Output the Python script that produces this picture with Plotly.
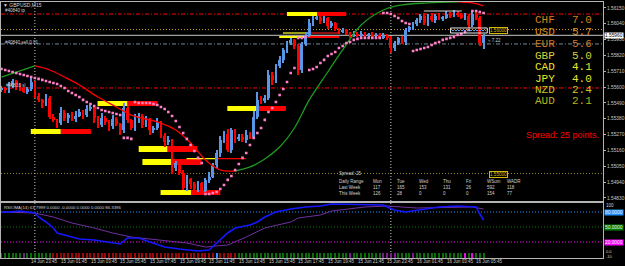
import plotly.graph_objects as go

W, H = 625, 266
def px(x): return x / W
def py(y): return 1 - y / H

# ---------------- data ----------------
closes = [
 1.55594, 1.55580, 1.55608, 1.55643, 1.55615, 1.55594, 1.55573, 1.55587, 1.55636, 1.55545,
 1.55511, 1.55490, 1.55525, 1.55399, 1.55372, 1.55351, 1.55427, 1.55386, 1.55413, 1.55379,
 1.55406, 1.55434, 1.55413, 1.55448, 1.55462, 1.55386, 1.55337, 1.55392, 1.55358, 1.55330,
 1.55379, 1.55344, 1.55302, 1.55455, 1.55372, 1.55316, 1.55386, 1.55406, 1.55337, 1.55372,
 1.55302, 1.55316, 1.55358, 1.55267, 1.55219, 1.55233, 1.55038, 1.55073, 1.55010, 1.54899,
 1.54962, 1.54927, 1.54892, 1.54934, 1.54885, 1.54955, 1.54982, 1.55059, 1.55149, 1.55233,
 1.55281, 1.55163, 1.55302, 1.55247, 1.55260, 1.55233, 1.55274, 1.55260, 1.55399, 1.55511,
 1.55504, 1.55531, 1.55691, 1.55650, 1.55747, 1.55789, 1.55858, 1.55907, 1.55928, 1.55886,
 1.55719, 1.55900, 1.55969, 1.56046, 1.56081, 1.56087, 1.56060, 1.56081, 1.56025, 1.56046,
 1.56004, 1.55990, 1.55997, 1.55976, 1.55962, 1.55976, 1.55962, 1.55976, 1.55962, 1.55969,
 1.55955, 1.55969, 1.55948, 1.55962, 1.55948, 1.55872, 1.55907, 1.55942, 1.55914, 1.55997,
 1.56018, 1.56039, 1.56067, 1.56101, 1.56046, 1.56101, 1.56067, 1.56101, 1.56081, 1.56087,
 1.56115, 1.56101, 1.56122, 1.56108, 1.56087, 1.56101, 1.56032, 1.56115, 1.56087, 1.55907,
 1.55960]
first_open = 1.55580
upper_wick_pips = [
 2,1,3,2,1,2,1,2,3,1, 2,1,3,2,2,1,4,2,1,2, 3,2,1,3,2,1,2,3,1,2,
 3,2,1,4,2,1,3,2,1,3, 2,2,3,1,2,3,1,2,1,2, 3,1,2,2,1,2,3,2,2,3,
 2,3,2,1,2,2,3,2,4,6, 3,2,3,2,2,3,2,2,2,1, 2,2,2,3,2,1,2,2,1,2,
 1,1,2,1,1,2,1,2,1,1, 2,1,1,2,1,1,2,1,2,2, 1,2,2,1,2,1,2,1,2,1,
 2,1,2,1,1,2,1,2,2,1, 1]
lower_wick_pips = [
 1,2,2,1,3,2,1,2,1,2, 1,3,2,2,1,3,1,2,3,1, 2,1,3,2,1,3,2,1,2,3,
 2,1,3,2,2,1,2,3,2,1, 3,2,1,2,3,2,4,2,2,1, 2,3,1,2,2,1,2,1,2,3,
 2,1,2,3,2,1,2,2,1,2, 2,1,2,3,2,1,2,2,1,2, 3,2,1,2,2,1,2,1,2,1,
 1,2,1,1,2,1,1,2,1,1, 1,2,1,1,2,3,2,1,1,2, 1,2,1,2,1,2,1,2,1,2,
 1,2,1,2,1,2,2,1,2,2, 4]

sar_values = [
 1.55726,1.55719,1.55712,1.55705,1.55698,1.55691,1.55684,1.55677,1.55670,1.55663,
 1.55657,1.55650,1.55643,1.55636,1.55629,1.55622,1.55608,1.55594,1.55573,1.55559,
 1.55545,1.55531,1.55511,1.55497,1.55483,1.55469,1.55455,1.55441,1.55434,1.55427,
 1.55420,1.55413,1.55406,1.55247,1.55247,1.55240,1.55497,1.55490,1.55490,1.55490,
 1.55490,1.55483,1.55476,1.55462,1.55448,1.55427,1.55399,1.55365,1.55323,1.55281,
 1.55240,1.55198,1.55156,1.55108,1.55073,1.54857,1.54857,1.54864,1.54871,1.54892,
 1.54920,1.54955,1.54982,1.55024,1.55066,1.55108,1.55142,1.55198,1.55247,1.55281,
 1.55316,1.55372,1.55427,1.55455,1.55497,1.55545,1.55587,1.55636,1.55698,1.55733,
 1.55942,1.55942,1.55948,1.55719,1.55726,1.55740,1.55768,1.55789,1.55816,1.55830,
 1.55844,1.55872,1.55886,1.55907,1.55914,1.55928,1.55935,1.55942,1.55942,1.55942,
 1.55942,1.55942,1.55942,1.56115,1.56115,1.56108,1.56094,1.56080,1.56060,1.56046,
 1.56039,1.55851,1.55858,1.55865,1.55872,1.55879,1.55893,1.55907,1.55914,1.55928,
 1.55935,1.55942,1.55948,1.55962,1.55969,1.55983,1.55997,1.56129,1.56129,1.56122,
 1.56115]

# moving average (colour by slope), read at points
ma_up1_idx = [0, 4, 9]
ma_up1_val = [1.55670, 1.55705, 1.55747]
ma_dn1_idx = [9, 13, 17, 21, 26, 31, 35, 42, 47, 51, 55, 59, 63]
ma_dn1_val = [1.55747, 1.55719, 1.55670, 1.55615, 1.55531, 1.55462, 1.55406, 1.55358,
              1.55302, 1.55212, 1.55094, 1.55024, 1.55017]
ma_up2_idx = [63, 67, 71, 75, 79, 83, 88, 92, 97, 103, 108, 115, 123]
ma_up2_val = [1.55017, 1.55045, 1.55101, 1.55184, 1.55316, 1.55511, 1.55705, 1.55858,
              1.56032, 1.56136, 1.56171, 1.56185, 1.56192]
ma_dn2_idx = [123, 127, 130]
ma_dn2_val = [1.56192, 1.56185, 1.56164]

# supply / demand zones (bar index, price)
zone_start = [7.9, 25.9, 37.0, 38.0, 42.9, 49.9, 60.9, 77.0, 75.9, 74.9]
zone_mid   = [16.0, 34.0, 44.8, 45.8, 51.2, 58.2, 68.7, 85.1, 83.5, 82.4]
zone_end   = [24.1, 42.1, 52.8, 53.9, 59.0, 66.0, 76.7, 92.9, 91.0, 91.0]
zone_top   = [1.55309, 1.55504, 1.55191, 1.55101, 1.54885, 1.55108, 1.55469, 1.56122, 1.55983, 1.55955]
zone_bot   = [1.55274, 1.55469, 1.55149, 1.55059, 1.54850, 1.55098, 1.55434, 1.56094, 1.55969, 1.55942]
zone_left_color  = ['#FFFF00']*8 + ['#9A9A1A', '#FFFF00']
zone_right_color = ['#FF0000']*8 + ['#8C1010', '#FF0000']

# horizontal levels
hline_price = [1.56108, 1.56000, 1.55960, 1.55900, 1.55594, 1.55000]
hline_color = ['#FF0000', '#DAA520', '#C8C8C8', '#7A8899', '#FF0000', '#9C8A16']
hline_dash  = ['4px,2px,1px,2px', '1px,2px', 'solid', '4px,2px,1px,2px', '4px,2px,1px,2px', '1px,2px']

price_tick_values = [1.56150, 1.56040, 1.55930, 1.55820, 1.55710, 1.55600, 1.55490,
                     1.55380, 1.55270, 1.55160, 1.55050, 1.54940, 1.54830]
price_tick_labels = ['1.56150', '1.56040', '1.55930', '1.55820', '1.55710', '1.55600', '1.55490',
                     '1.55380', '1.55270', '1.55160', '1.55050', '1.54940', '1.54830']

time_label_idx = [0, 8, 16, 24, 32, 40, 48, 56, 64, 72, 80, 88, 96, 104, 112, 120, 128]
time_labels = ['14 Jun 2015', '14 Jun 23:45', '15 Jun 01:45', '15 Jun 03:45', '15 Jun 05:45',
               '15 Jun 07:45', '15 Jun 09:45', '15 Jun 11:45', '15 Jun 13:45', '15 Jun 15:45',
               '15 Jun 17:45', '15 Jun 19:45', '15 Jun 21:45', '15 Jun 23:45', '16 Jun 01:45',
               '16 Jun 03:45', '16 Jun 05:45']
separator_idx = [9, 105]

# RSIOMA panel
rsi_idx = [0, 2, 5, 9, 10, 12, 14, 15, 18, 21, 25, 28, 32, 34, 37, 40, 44, 48, 53, 56, 59,
           61, 63, 67, 69, 71, 74, 78, 82, 86, 89, 103, 104, 106, 109, 113, 118, 123, 128, 129, 130]
rsi_val = [80, 80, 82, 78, 70, 60, 48, 38, 32, 26, 24, 20, 16, 28, 28, 20, 10, 6, 2, 4, 24,
           38, 48, 54, 60, 70, 80, 86, 90, 92, 96, 94, 90, 84, 80, 84, 90, 92, 90, 76, 64]
rsi_ma_idx = [0, 9, 14, 19, 25, 30, 35, 43, 50, 55, 61, 66, 71, 78, 80, 86, 89, 98, 104, 112, 121, 127, 130]
rsi_ma_val = [80, 78, 70, 58, 48, 38, 30, 24, 18, 10, 14, 30, 48, 60, 68, 74, 82, 90, 92, 88, 90, 90, 86]
rsi_levels = [80, 50, 20]
rsi_level_colors = ['#1E90FF', '#008000', '#FF00FF']
hist_state = ('gggggg' + 'p' + 'ggggggg' + 'r'*44 + 'b' + 'rrrrr' + 'g'*30 + 'p' + 'g'*8 +
              'pppp' + 'gggg' + 'p' + 'g'*13 + 'm' + 'g' + 'm' + 'ggg')
HIST_DEPTH = -10

currencies = ['CHF', 'USD', 'EUR', 'GBP', 'CAD', 'JPY', 'NZD', 'AUD']
strengths = ['7.0', '5.7', '5.6', '5.0', '4.1', '4.0', '2.4', '2.1']
strength_colors = ['#D2821E', '#DC8C1E', '#C8782A', '#D2D23C', '#E6E632', '#E6E628', '#C8C828', '#B4B41E']

range_days = ['Mon', 'Tue', 'Wed', 'Thu', 'Fri', 'WSum', 'WADR']
last_week = ['117', '165', '153', '131', '26', '592', '118']
this_week = ['126', '28', '0', '0', '0', '154', '77']

# ---------------- figure ----------------
n = len(closes)
bars = list(range(n))
PIP = 0.0001
opens = [first_open] + closes[:-1]
highs = [max(o, c) + u * PIP for o, c, u in zip(opens, closes, upper_wick_pips)]
lows = [min(o, c) - d * PIP for o, c, d in zip(opens, closes, lower_wick_pips)]
cols = ['#5A96E6' if c >= o else '#FF0000' for o, c in zip(opens, closes)]

fig = go.Figure()
fig.add_trace(go.Bar(x=bars, base=lows, y=[h - l for h, l in zip(highs, lows)], width=0.3,
                     marker=dict(color=cols, line=dict(width=0)), xaxis='x', yaxis='y', hoverinfo='skip'))
fig.add_trace(go.Bar(x=bars, base=[min(o, c) for o, c in zip(opens, closes)],
                     y=[max(abs(c - o), 0.00003) for o, c in zip(opens, closes)], width=0.74,
                     marker=dict(color=cols, line=dict(width=0)), xaxis='x', yaxis='y', hoverinfo='skip'))

for xi, yv, colr in [(ma_up1_idx, ma_up1_val, '#1E9A1E'), (ma_dn1_idx, ma_dn1_val, '#FF0000'),
                     (ma_up2_idx, ma_up2_val, '#1E9A1E'), (ma_dn2_idx, ma_dn2_val, '#FF0000')]:
    fig.add_trace(go.Scatter(x=xi, y=yv, mode='lines', line=dict(color=colr, width=1.3, shape='spline'),
                             xaxis='x', yaxis='y', hoverinfo='skip'))

fig.add_trace(go.Scatter(x=bars, y=sar_values, mode='markers',
                         marker=dict(symbol='square', size=2.6, color='#FF80C8', line=dict(width=0)),
                         xaxis='x', yaxis='y', hoverinfo='skip'))

# RSI panel
hist_colors = {'g': '#0B6E0B', 'r': '#9B0A0A', 'p': '#7A1E8C', 'm': '#E010E0', 'b': '#2F8FFF'}
fig.add_trace(go.Bar(x=bars, y=[HIST_DEPTH for _ in hist_state], width=0.3,
                     marker=dict(color=[hist_colors[s] for s in hist_state], line=dict(width=0)),
                     xaxis='x2', yaxis='y2', hoverinfo='skip'))
fig.add_trace(go.Scatter(x=rsi_ma_idx, y=rsi_ma_val, mode='lines', line=dict(color='#7030A0', width=1),
                         xaxis='x2', yaxis='y2', hoverinfo='skip'))
fig.add_trace(go.Scatter(x=rsi_idx, y=rsi_val, mode='lines', line=dict(color='#1418FF', width=1.6),
                         xaxis='x2', yaxis='y2', hoverinfo='skip'))

shapes = []
for s, m, e, t, b, lc, rc in zip(zone_start, zone_mid, zone_end, zone_top, zone_bot,
                                 zone_left_color, zone_right_color):
    shapes.append(dict(type='rect', xref='x', yref='y', x0=s, x1=m, y0=b, y1=t,
                       fillcolor=lc, line=dict(width=0), layer='below'))
    shapes.append(dict(type='rect', xref='x', yref='y', x0=m, x1=e, y0=b, y1=t,
                       fillcolor=rc, line=dict(width=0), layer='below'))
for p, c, d in zip(hline_price, hline_color, hline_dash):
    shapes.append(dict(type='line', xref='x domain', yref='y', x0=0, x1=1, y0=p, y1=p,
                       line=dict(color=c, width=1, dash=d), layer='below'))
for lv, c in zip(rsi_levels, rsi_level_colors):
    shapes.append(dict(type='line', xref='x2 domain', yref='y2', x0=0, x1=1, y0=lv, y1=lv,
                       line=dict(color=c, width=1, dash='1px,2px'), layer='below'))
for si in separator_idx:
    shapes.append(dict(type='line', xref='x', yref='paper', x0=si, x1=si, y0=py(258), y1=py(1.5),
                       line=dict(color='#C8C8C8', width=1, dash='1px,2px'), layer='below'))
# drawn objects near top right
shapes.append(dict(type='line', xref='x', yref='y', x0=113.9, x1=124.1, y0=1.56129, y1=1.56129,
                   line=dict(color='#D8D8D8', width=1)))
shapes.append(dict(type='rect', xref='x', yref='y', x0=121.1, x1=131.0, y0=1.55976, y1=1.56011,
                   line=dict(color='#E8E8E8', width=1), fillcolor='rgba(0,0,0,0)'))
shapes.append(dict(type='line', xref='x', yref='y', x0=121.5, x1=130.6, y0=1.55993, y1=1.55993,
                   line=dict(color='#6FA8FF', width=1, dash='2px,1px')))

ann = []
def txt(x, y, s, size=5, color='#D0D0D0', family='Liberation Sans', anchor='left', **kw):
    ann.append(dict(xref='paper', yref='paper', x=px(x), y=py(y), text=s, showarrow=False,
                    xanchor=anchor, yanchor='middle', font=dict(size=size, color=color, family=family),
                    borderpad=0, **kw))

txt(2, 5, '▼ GBPUSD,M15')
txt(4, 11, '#40840 tp', size=4.5)
txt(4, 42, '#40840 sell 0.01', size=4.5)
txt(5, 85, '#40816 sl', size=4.5)
txt(489, 40, '≈ 7.22', size=4.5)
txt(607, 205.5, '100', size=4.5)
for lv, c in zip(rsi_levels, rsi_level_colors):
    ann.append(dict(xref='paper', yref='y2', x=px(606), y=lv, text=f'{lv:.4f}', showarrow=False,
                    xanchor='left', yanchor='middle', bgcolor=c, borderpad=0,
                    font=dict(size=4.8, color='#F0F0F0', family='Liberation Sans')))
txt(607, 251.5, '0.0', size=4)
txt(607, 256.5, '-10', size=4)
ann.append(dict(xref='paper', yref='y', x=px(606), y=1.55960, text='1.55960', showarrow=False,
                xanchor='left', yanchor='middle', bgcolor='#FFFFFF', borderpad=0,
                font=dict(size=4.8, color='#000000', family='Liberation Sans')))
for lvl, yy in [('1.56000', 30.5), ('1.55000', 174.5)]:
    ann.append(dict(xref='paper', yref='paper', x=px(491), y=py(yy), text=lvl, showarrow=False,
                    xanchor='left', yanchor='middle', bordercolor='#D8B800', borderwidth=1, borderpad=0,
                    bgcolor='#000000', font=dict(size=4.6, color='#D8B800', family='Liberation Sans')))

txt(3, 207, 'RSIOMA(14) 63.7999 0.0000 -0.0000 0.0000 0.0000 86.3396', size=4.3)

for i, lab in zip(time_label_idx, time_labels):
    ann.append(dict(xref='x', yref='paper', x=i - 0.2, y=py(261.5), text=lab, showarrow=False,
                    xanchor='left', yanchor='middle', borderpad=0,
                    font=dict(size=4.5, color='#C8C8C8', family='Liberation Sans')))

row_y = [20, 32, 44, 55.5, 67, 79, 90, 101.5]
for cur, val, colr, yy in zip(currencies, strengths, strength_colors, row_y):
    txt(536, yy, cur, size=11, color=colr, family='Liberation Mono')
    txt(573, yy, val, size=11, color=colr, family='Liberation Mono')

txt(527, 135, 'Spread: 25 points.', size=9, color='#FF0000')

txt(339, 173, 'Spread: 25', size=4.5)
txt(339, 181, 'Daily Range', size=4.5)
txt(339, 187.5, 'Last Week', size=4.5)
txt(339, 193.5, 'This Week', size=4.5)
col_x = [373, 397, 419, 443, 466, 488, 508]
for cx, d, lw, tw in zip(col_x, range_days, last_week, this_week):
    txt(cx, 181, d, size=4.5)
    txt(cx, 187.5, lw, size=4.5)
    txt(cx, 193.5, tw, size=4.5)

frame = '#B4B4B4'
fig.update_layout(
    width=W, height=H, margin=dict(l=0, r=0, t=0, b=0),
    paper_bgcolor='#000000', plot_bgcolor='#000000', showlegend=False,
    barmode='overlay', bargap=0,
    xaxis=dict(domain=[px(1), px(605)], range=[-0.134, 162.23], anchor='y', showgrid=False,
               zeroline=False, showticklabels=False, showline=True, mirror=True,
               linecolor=frame, linewidth=1),
    yaxis=dict(domain=[py(200.5), py(1.5)], range=[1.54812, 1.56195], anchor='x', side='right',
               showgrid=False, zeroline=False, tickvals=price_tick_values, ticktext=price_tick_labels,
               ticks='outside', ticklen=2, tickcolor=frame,
               tickfont=dict(size=4.8, color='#C8C8C8', family='Liberation Sans'),
               showline=True, mirror=True, linecolor=frame, linewidth=1),
    xaxis2=dict(domain=[px(1), px(605)], matches='x', anchor='y2', showgrid=False, zeroline=False,
                showticklabels=False, showline=True, mirror=True, linecolor=frame, linewidth=1),
    yaxis2=dict(domain=[py(258), py(202.5)], range=[-12, 99], anchor='x2', side='right',
                showgrid=False, zeroline=False, showticklabels=False, showline=True, mirror=True,
                linecolor=frame, linewidth=1),
    shapes=shapes, annotations=ann,
)

fig.write_html('out.html')
